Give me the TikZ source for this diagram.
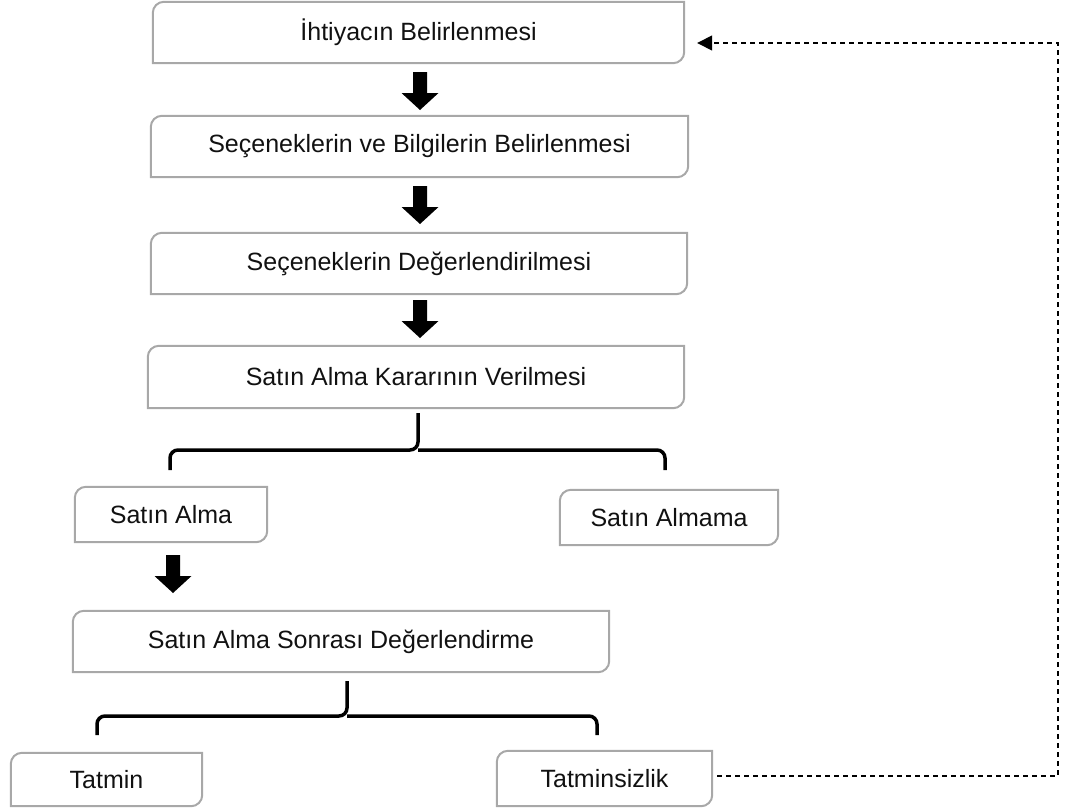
\documentclass[tikz,border=0pt]{standalone}
\usepackage{fontspec}
\setmainfont{Liberation Sans}
\usetikzlibrary{arrows.meta,calc}
\definecolor{boxgray}{HTML}{A8A8A8}
\definecolor{txt}{HTML}{111111}
\tikzset{
  procbox/.style={draw=none,inner sep=0pt,align=center,text=txt,font=\fontsize{25}{30}\selectfont},
  boxline/.style={draw=boxgray,line width=2pt},
  bracefig/.style={draw=black,line width=3.5pt,rounded corners=8pt},
  dashline/.style={draw=black,line width=1.5pt,dash pattern=on 5pt off 4pt},
  blockarrow/.pic={\fill[black] (-7,-19) -- (7,-19) -- (7,2) -- (18.5,2) -- (0,19) -- (-18.5,2) -- (-7,2) -- cycle;}
}
\newcommand\diagbox[1]{%
  \draw[boxline] (#1.south west) -- ([yshift=-11pt]#1.north west) .. controls ([yshift=-5pt]#1.north west) and ([xshift=5pt]#1.north west) .. ([xshift=11pt]#1.north west) -- (#1.north east) -- ([yshift=11pt]#1.south east) .. controls ([yshift=5pt]#1.south east) and ([xshift=-5pt]#1.south east) .. ([xshift=-11pt]#1.south east) -- cycle;}
\begin{document}
\begin{tikzpicture}[x=1pt,y=-1pt]
\useasboundingbox (0,0) rectangle (1074,811);
\node[procbox,minimum width=531pt,minimum height=61pt] (b1) at (418.5,32.5) {İhtiyacın Belirlenmesi};
\node[procbox,minimum width=537pt,minimum height=61pt] (b2) at (419.5,146.5) {Seçeneklerin ve Bilgilerin Belirlenmesi};
\node[procbox,minimum width=536pt,minimum height=61pt] (b3) at (419,263.5) {Seçeneklerin Değerlendirilmesi};
\node[procbox,minimum width=536pt,minimum height=62pt] (b4) at (416,377) {Satın Alma Kararının Verilmesi};
\node[procbox,minimum width=192pt,minimum height=55pt] (sa) at (171,514.5) {Satın Alma};
\node[procbox,minimum width=218pt,minimum height=55pt] (sam) at (669,517.5) {Satın Almama};
\node[procbox,minimum width=536pt,minimum height=61pt] (sd) at (341,641.5) {Satın Alma Sonrası Değerlendirme};
\node[procbox,minimum width=191pt,minimum height=53pt] (t1) at (106.5,779.5) {Tatmin};
\node[procbox,minimum width=215pt,minimum height=55pt] (t2) at (604.5,778.5) {Tatminsizlik};
\foreach \n in {b1,b2,b3,b4,sa,sam,sd,t1,t2}{\diagbox{\n}}
% block arrows
\pic at (420,91) {blockarrow};
\pic at (420,205) {blockarrow};
\pic at (420,319) {blockarrow};
\pic at (173,574) {blockarrow};
% bracket 1
\coordinate (k1top) at (418,413);
\coordinate (k1mid) at (418,450);
\coordinate (k1l) at (170,470);
\coordinate (k1r) at (665,470);
\draw[bracefig] (k1l) -- (k1l |- k1mid) -- (k1mid) -- (k1top);
\draw[bracefig] (k1r) -- (k1r |- k1mid) -- (k1mid);
% bracket 2
\coordinate (k2top) at (347,681);
\coordinate (k2mid) at (347,716);
\coordinate (k2l) at (97,735);
\coordinate (k2r) at (597,735);
\draw[bracefig] (k2l) -- (k2l |- k2mid) -- (k2mid) -- (k2top);
\draw[bracefig] (k2r) -- (k2r |- k2mid) -- (k2mid);
% feedback dashed
\coordinate (d1) at (1058,776);
\coordinate (d2) at (1058,43);
\draw[dashline,-{Triangle[length=15pt,width=15pt]}] ([xshift=5pt]t2.east |- d1) -- (d1) -- (d2) -- ([xshift=13pt]b1.east |- d2);
\end{tikzpicture}
\end{document}
